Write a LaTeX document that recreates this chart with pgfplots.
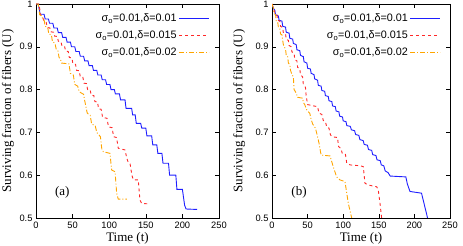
\documentclass[border=0pt]{standalone}
\usepackage{pgfplots}
\pgfplotsset{compat=1.18}
\usepackage{fontspec}
\setmainfont{Liberation Serif}
\setsansfont{Liberation Sans}
\definecolor{cblue}{RGB}{30,30,255}
\definecolor{cred}{RGB}{255,40,40}
\definecolor{corange}{RGB}{255,165,0}
\pgfplotsset{
  panel/.style={
    scale only axis, height=214pt,
    xmin=0, xmax=250, ymin=0.5, ymax=1,
    xtick={0,50,100,150,200,250},
    ytick={0.5,0.6,0.7,0.8,0.9,1},
    tick align=inside, major tick length=4pt,
    /pgf/number format/assume math mode=true,
    tick label style={font=\sffamily\fontsize{9.3}{10}\selectfont, black},
    label style={font=\rmfamily\fontsize{13}{14}\selectfont},
    xlabel={Time (t)},
    ylabel={Surviving fraction of fibers (U)},
    xlabel style={at={(axis description cs:0.5,0)}, anchor=center, yshift=-20pt},
    axis line style={line width=0.6pt},
    tick style={line width=0.5pt, black},
    legend plot pos=right,
    legend cell align=right,
    legend image code/.code={\draw[#1] (0pt,0pt) -- (30pt,0pt);},
    legend style={draw=none, fill=none, font=\sffamily\fontsize{10.8}{12}\selectfont,
      anchor=north east, row sep=3.8pt, inner sep=1pt},
  },
  sb/.style={draw=cblue, color=cblue, line width=0.9pt},
  sr/.style={draw=cred, color=cred, line width=0.9pt, dash pattern=on 3pt off 3pt},
  so/.style={draw=corange, color=corange, line width=0.9pt, dash pattern=on 5pt off 2pt on 1pt off 2pt},
}
\begin{document}
\begin{tikzpicture}[x=1pt,y=1pt]
\path[use as bounding box] (0,0) rectangle (463,246);
\begin{axis}[panel, at={(36pt,28pt)}, anchor=south west, width=183pt,
  ylabel style={at={(axis description cs:-0.153,0.5)}, anchor=center},
  legend style={at={(axis description cs:0.955,0.97)}}]
\addplot[sb] coordinates {(0,1)(3,1)(4,0.99)(4.5,0.99)(5.5,0.976)
(11,0.976)(12.5,0.965)(17,0.965)(18.5,0.955)(23,0.955)(24.5,0.944)(29,0.944)(30.5,0.933)
(35,0.933)(36.5,0.922)(41,0.922)(42.5,0.911)(47,0.911)(48.5,0.900)(53,0.900)(54.5,0.889)
(59,0.889)(60.5,0.878)(65,0.878)(66.5,0.867)(71,0.867)(72.5,0.856)(77,0.856)(78.5,0.845)
(83,0.845)(84.5,0.834)(89,0.834)(90.5,0.823)(95,0.823)(96.5,0.812)(101,0.812)(102.5,0.800)
(107,0.800)(108.5,0.790)(114,0.790)(115.5,0.776)(121.6,0.776)(123,0.756)(130.7,0.756)(132,0.741)
(135.5,0.741)(137,0.721)(143,0.721)(144.5,0.710)(150,0.710)(151.5,0.692)(158,0.692)(159.5,0.671)
(165,0.671)(166.5,0.651)(172,0.651)(173.5,0.628)(181,0.628)(182.5,0.600)(191,0.600)(192.5,0.567)
(200,0.567)(203,0.53)(205,0.521)(220,0.520)};
\addlegendentry{σ\textsubscript{o}=0.01,δ=0.01}
\addplot[sr] coordinates {(0,1)(4,1)(5,0.99)(6,0.975)(9,0.972)(10.5,0.96)(14,0.957)(15.5,0.945)
(19,0.944)(20.5,0.935)(24,0.934)(25.5,0.925)(29,0.924)(30.5,0.913)(34,0.912)(35.5,0.902)
(39,0.901)(40.5,0.89)(44,0.889)(45.5,0.875)(49,0.874)(50.5,0.86)(54,0.859)(55.5,0.845)
(59,0.844)(60.5,0.83)(64,0.829)(65.5,0.815)(69,0.814)(70.5,0.80)(74,0.799)(75.5,0.787)
(79,0.786)(80.5,0.772)(84,0.771)(85.5,0.755)(89,0.754)(91,0.735)(97,0.733)(99,0.713)
(104,0.711)(106,0.69)(110,0.688)(112.4,0.663)(121.6,0.659)(124,0.64)(126,0.63)(128.4,0.628)
(131,0.6)(133,0.589)(139.7,0.589)(142,0.542)(144.4,0.534)(153.4,0.533)};
\addlegendentry{σ\textsubscript{o}=0.01,δ=0.015}
\addplot[so] coordinates {(0,1)(3,1)(4,0.99)(5,0.975)(8,0.972)(9,0.965)(11,0.963)(12.5,0.948)
(16,0.945)(17.5,0.93)(21,0.928)(22.5,0.912)(26,0.908)(27.5,0.895)(30,0.89)(31.5,0.875)
(33,0.873)(35,0.862)(45,0.860)(47,0.838)(51,0.834)(53,0.812)(57,0.808)(59,0.795)
(65,0.789)(67,0.77)(70,0.745)(74,0.74)(76,0.72)(81,0.715)(83,0.7)(88,0.69)(90,0.66)
(92,0.655)(101,0.651)(103.4,0.612)(108,0.608)(110.2,0.558)(112.4,0.544)(124,0.544)};
\addlegendentry{σ\textsubscript{o}=0.01,δ=0.02}
\node[font=\rmfamily\fontsize{13}{14}\selectfont] at (axis cs:36,0.56) {(a)};
\end{axis}
\begin{axis}[panel, at={(272pt,28pt)}, anchor=south west, width=178pt,
  ylabel style={at={(axis description cs:-0.184,0.5)}, anchor=center},
  legend style={at={(axis description cs:0.955,0.97)}}]
\addplot[sb] coordinates {(0,1)(2,0.99)(4,0.985)(5,0.975)(9,0.972)(10,0.962)(14,0.96)(15,0.948)
(19,0.946)(20,0.934)(24,0.932)(25,0.92)(29,0.918)(30,0.908)(34,0.905)(35,0.893)(39,0.891)(40,0.88)
(44,0.877)(45,0.865)(49,0.862)(50,0.85)(54,0.848)(55,0.838)(59,0.835)(60,0.825)(64,0.822)(65,0.81)
(69,0.808)(70,0.798)(74,0.796)(75,0.786)(79,0.784)(80,0.774)(84,0.772)(85,0.762)(89,0.76)(90,0.75)
(94,0.748)(95,0.738)(99,0.736)(100,0.727)(104,0.725)(105,0.716)(110,0.714)(111.5,0.706)(116,0.704)
(117.5,0.695)(122,0.693)(123.5,0.683)(128,0.681)(129.5,0.672)(134,0.67)(135.5,0.66)(140,0.658)
(141.5,0.648)(146,0.646)(147.5,0.636)(152,0.634)(153.5,0.624)(157,0.622)(159,0.61)(163,0.606)
(166,0.598)(188,0.596)(190,0.58)(193.8,0.562)(210,0.558)(218.5,0.5)};
\addlegendentry{σ\textsubscript{o}=0.01,δ=0.01}
\addplot[sr] coordinates {(0,1)(2,0.99)(4,0.98)(7,0.975)(8,0.962)(11,0.96)(12,0.948)(15,0.945)
(16,0.932)(19,0.93)(20,0.918)(23,0.915)(24,0.903)(27,0.9)(28,0.888)(31,0.885)(32,0.87)(35,0.867)
(36,0.852)(39,0.849)(40,0.835)(43,0.83)(44,0.812)(47,0.805)(48,0.785)(50,0.765)(64,0.76)(66,0.745)
(70,0.742)(72,0.728)(75,0.725)(77,0.712)(80,0.71)(82,0.695)(84,0.69)(92,0.688)(93.5,0.667)(97,0.662)
(98.5,0.652)(103,0.65)(105,0.628)(110,0.624)(124,0.622)(128.2,0.62)(130.6,0.581)(135.3,0.577)
(147,0.573)(149.3,0.565)(151.7,0.534)(154,0.5)};
\addlegendentry{σ\textsubscript{o}=0.01,δ=0.015}
\addplot[so] coordinates {(0,1)(2,0.99)(3,0.978)(5,0.975)(6,0.96)(8,0.958)(9,0.945)(11,0.942)
(12,0.93)(14,0.928)(15,0.915)(16,0.905)(17,0.9)(19,0.895)(20,0.88)(22,0.877)(23,0.862)(25,0.858)
(26,0.845)(28,0.835)(30,0.83)(31,0.80)(33,0.795)(35,0.787)(36,0.782)(43,0.78)(44,0.77)(46,0.765)
(48,0.755)(50,0.75)(53,0.745)(55,0.73)(57,0.72)(59,0.715)(61,0.71)(64,0.69)(66,0.675)(67,0.665)
(69,0.647)(81.5,0.645)(86,0.62)(90.8,0.596)(95.5,0.589)(102.5,0.585)(105,0.558)(107.2,0.534)(111.9,0.5)};
\addlegendentry{σ\textsubscript{o}=0.01,δ=0.02}
\node[font=\rmfamily\fontsize{13}{14}\selectfont] at (axis cs:38,0.56) {(b)};
\end{axis}
\end{tikzpicture}
\end{document}
